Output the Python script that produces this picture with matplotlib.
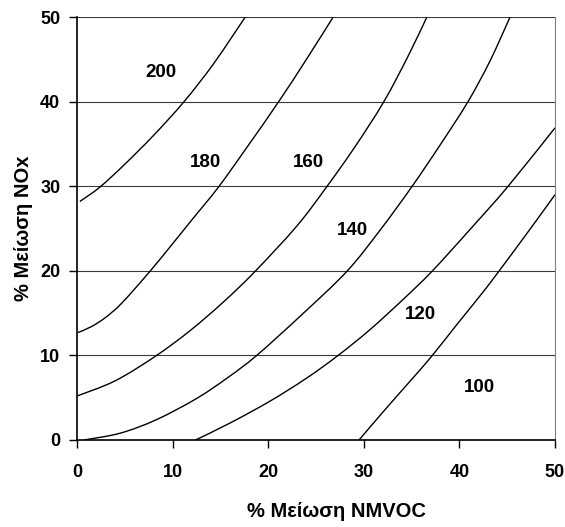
import matplotlib.pyplot as plt
from matplotlib.path import Path
from matplotlib.patches import PathPatch

plt.rcParams['font.family'] = ['Liberation Sans', 'DejaVu Sans']
plt.rcParams['font.weight'] = 'bold'

# isopleth curves: (% NMVOC, % NOx)
c200_x = [0.3, 2.4, 5.0, 8.0, 11.2, 14.3, 17.6]
c200_y = [28.2, 29.9, 32.6, 36.0, 40.0, 44.5, 50.0]

c180_x = [0.1, 1.5, 3.0, 4.7, 7.6, 10.0, 12.0, 14.8, 17.9, 21.1, 24.0, 26.8]
c180_y = [12.7, 13.4, 14.5, 16.2, 19.9, 23.2, 26.0, 29.9, 34.8, 40.0, 45.0, 50.0]

c160_x = [0.0, 4.0, 8.2, 11.8, 15.3, 18.6, 23.0, 26.1, 29.1, 32.1, 34.6, 36.6]
c160_y = [5.2, 7.0, 9.9, 12.9, 16.3, 19.9, 25.3, 29.9, 34.7, 40.0, 45.3, 50.0]

c140_x = [0.7, 4.5, 8.3, 12.5, 15.8, 18.8, 23.5, 28.2, 31.7, 35.0, 38.0, 40.9, 43.2, 45.3]
c140_y = [0.0, 0.8, 2.4, 4.9, 7.4, 10.0, 14.8, 19.9, 24.8, 29.9, 34.9, 40.0, 44.8, 50.0]

c120_x = [12.4, 16.0, 20.2, 24.0, 27.2, 30.6, 34.0, 37.1, 41.2, 45.1, 50.0]
c120_y = [0.0, 2.0, 4.6, 7.3, 9.9, 13.0, 16.5, 19.9, 25.0, 30.0, 36.9]

c100_x = [29.5, 32.0, 34.8, 37.1, 39.7, 42.2, 44.1, 47.7, 50.0]
c100_y = [0.0, 3.3, 6.9, 9.9, 13.6, 17.1, 19.9, 25.4, 29.0]

curves = [(c200_x, c200_y), (c180_x, c180_y), (c160_x, c160_y),
          (c140_x, c140_y), (c120_x, c120_y), (c100_x, c100_y)]

labels = ['200', '180', '160', '140', '120', '100']
label_x = [8.8, 13.4, 24.2, 28.8, 35.9, 42.1]
label_y = [43.5, 32.8, 32.8, 24.8, 14.8, 6.2]

ticks = [0, 10, 20, 30, 40, 50]


def smooth_path(xs, ys):
    # smoothed line through the read points (Catmull-Rom as cubic Bezier)
    pts = list(zip(xs, ys))
    verts = [pts[0]]
    codes = [Path.MOVETO]
    n = len(pts)
    for i in range(n - 1):
        p0 = pts[max(i - 1, 0)]
        p1 = pts[i]
        p2 = pts[i + 1]
        p3 = pts[min(i + 2, n - 1)]
        c1 = (p1[0] + (p2[0] - p0[0]) / 6, p1[1] + (p2[1] - p0[1]) / 6)
        c2 = (p2[0] - (p3[0] - p1[0]) / 6, p2[1] - (p3[1] - p1[1]) / 6)
        verts += [c1, c2, p2]
        codes += [Path.CURVE4] * 3
    return Path(verts, codes)


fig = plt.figure(figsize=(5.65, 5.27), dpi=100)
ax = fig.add_axes([0.1363, 0.1651, 0.846, 0.8026])

for y in ticks[1:]:
    ax.axhline(y, color='#3a3a3a', lw=0.8, zorder=1)

for cx, cy in curves:
    ax.add_patch(PathPatch(smooth_path(cx, cy), facecolor='none',
                           edgecolor='black', lw=1.0, zorder=2))

for t, lx, ly in zip(labels, label_x, label_y):
    ax.text(lx, ly, t, ha='center', va='center', fontsize=13.5, fontweight='bold')

ax.set_xlim(0, 50)
ax.set_ylim(0, 50)
ax.set_xticks(ticks)
ax.set_yticks(ticks)
ax.tick_params(axis='x', direction='out', length=6, width=1, pad=11, labelsize=13)
ax.tick_params(axis='y', direction='out', length=6, width=1, pad=6, labelsize=13)
for lab in ax.get_xticklabels() + ax.get_yticklabels():
    lab.set_fontweight('bold')

ax.spines['top'].set_visible(False)
ax.spines['right'].set_color('#808080')
ax.spines['left'].set_linewidth(1.2)
ax.spines['bottom'].set_linewidth(1.2)

ax.set_xlabel('% Μείωση NMVOC', fontsize=14.5, fontweight='bold', va='center')
ax.set_ylabel('% Μείωση NOx', fontsize=14.5, fontweight='bold', va='center')
ax.xaxis.set_label_coords(0.542, -0.170)
ax.yaxis.set_label_coords(-0.111, 0.5)

fig.savefig('out.png', dpi=100)
